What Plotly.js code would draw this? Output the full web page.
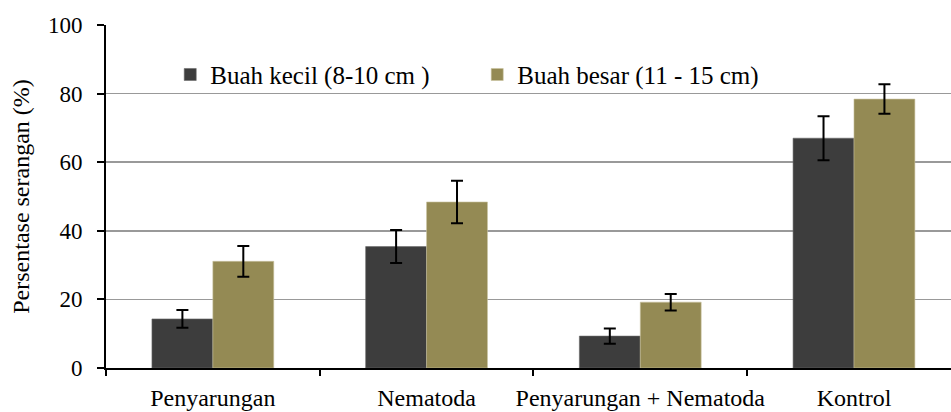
<!DOCTYPE html>
<html>
<head>
<meta charset="utf-8">
<script src="https://cdn.plot.ly/plotly-3.0.1.min.js"></script>
<style>html,body{margin:0;padding:0;background:#fff;}#chart{width:951px;height:412px;}</style>
</head>
<body>
<div id="chart"></div>
<script>
const categories = ["Penyarungan", "Nematoda", "Penyarungan + Nematoda", "Kontrol"];
const seriesNames = ["Buah kecil (8-10 cm )", "Buah besar (11 - 15 cm)"];
const buahKecil = [14.3, 35.4, 9.3, 67.0];
const buahKecilErr = [2.6, 4.8, 2.2, 6.4];
const buahBesar = [31.1, 48.4, 19.2, 78.4];
const buahBesarErr = [4.5, 6.2, 2.4, 4.3];
const yTicks = [0, 20, 40, 60, 80, 100];

const fontFamily = "Liberation Serif, Times New Roman, serif";

const traces = [
  {
    type: "bar", name: seriesNames[0], x: categories, y: buahKecil,
    marker: {color: "#3d3d3d", line: {color: "#6a6a6a", width: 0.6}},
    error_y: {type: "data", array: buahKecilErr, visible: true, color: "#000", thickness: 2, width: 6}
  },
  {
    type: "bar", name: seriesNames[1], x: categories, y: buahBesar,
    marker: {color: "#948a54", line: {color: "#c9c39f", width: 0.6}},
    error_y: {type: "data", array: buahBesarErr, visible: true, color: "#000", thickness: 2, width: 6}
  }
];

const layout = {
  width: 951, height: 412,
  margin: {l: 106, r: 0, t: 25, b: 44},
  paper_bgcolor: "#fff", plot_bgcolor: "#fff",
  font: {family: fontFamily, size: 22, color: "#000"},
  barmode: "group", bargap: 0.43, bargroupgap: 0,
  showlegend: true,
  legend: {
    orientation: "h", x: 0.076, y: 0.855, xanchor: "left", yanchor: "middle",
    font: {family: fontFamily, size: 25, color: "#000"},
    bgcolor: "rgba(0,0,0,0)", entrywidth: 262, entrywidthmode: "pixels",
    itemclick: false
  },
  xaxis: {
    type: "category", range: [-0.5, 3.454],
    showline: true, linecolor: "#000", linewidth: 2,
    ticks: "outside", tickson: "boundaries", ticklen: 6, tickwidth: 2, tickcolor: "#000",
    showgrid: false, zeroline: false, ticklabelstandoff: 7, tickangle: 0,
    tickfont: {family: fontFamily, size: 24, color: "#000"}
  },
  yaxis: {
    range: [0, 100], tickvals: yTicks, ticktext: yTicks.map(String),
    showline: true, linecolor: "#000", linewidth: 2,
    ticks: "outside", ticklen: 7, tickwidth: 2, tickcolor: "#000",
    showgrid: true, gridcolor: "#999", gridwidth: 1.5,
    zeroline: false, ticklabelstandoff: 10,
    tickfont: {family: fontFamily, size: 23, color: "#000"},
    title: {text: "Persentase serangan (%)", font: {family: fontFamily, size: 24, color: "#000"}, standoff: 12}
  }
};

Plotly.newPlot("chart", traces, layout, {displayModeBar: false, staticPlot: true});
</script>
</body>
</html>
